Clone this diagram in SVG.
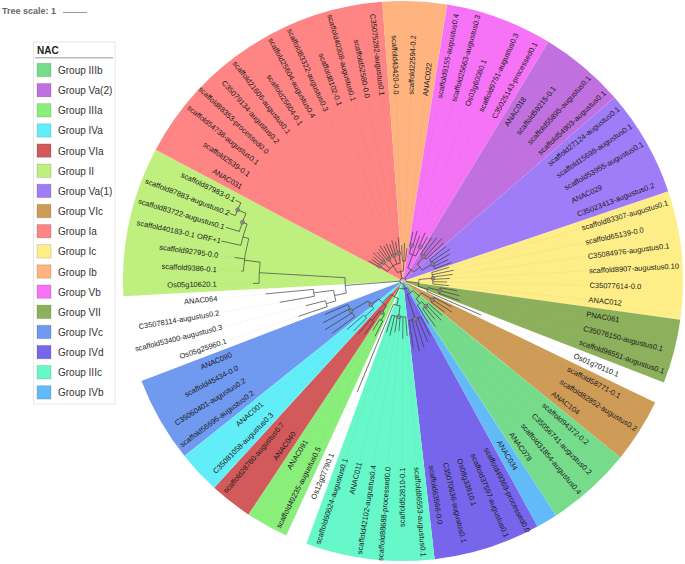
<svg xmlns="http://www.w3.org/2000/svg" width="685" height="564" viewBox="0 0 685 564">
<style>
.lb{font-family:"Liberation Sans",Arial,sans-serif;font-size:7.5px;fill:#1a1a1a}
.e{text-anchor:end}
.w{fill:none;stroke-width:280}
.lg{font-family:"Liberation Sans",Arial,sans-serif;font-size:10px;fill:#333}
.sw{stroke:#0002;stroke-width:1}
.bs{fill:#8a8a8a;stroke:#444;stroke-width:0.4;fill-opacity:0.85}
</style>
<rect width="685" height="564" fill="#fff"/>
<g id="sectors" transform="translate(403,281)">
<circle id="s-Ic" class="w" r="140" pathLength="360" stroke="#ffee88" stroke-dasharray="26.67 720" transform="rotate(-18.7)"/>
<circle id="s-VII" class="w" r="140" pathLength="360" stroke="#8cb05c" stroke-dasharray="13.33 720" transform="rotate(7.97)"/>
<circle id="s-VIc" class="w" r="140" pathLength="360" stroke="#cf9c58" stroke-dasharray="13.33 720" transform="rotate(25.74)"/>
<circle id="s-IIIb" class="w" r="140" pathLength="360" stroke="#76dc8c" stroke-dasharray="17.78 720" transform="rotate(39.08)"/>
<circle id="s-IVb" class="w" r="140" pathLength="360" stroke="#62bbf8" stroke-dasharray="4.44 720" transform="rotate(56.86)"/>
<circle id="s-IVd" class="w" r="140" pathLength="360" stroke="#7766ec" stroke-dasharray="22.22 720" transform="rotate(61.3)"/>
<circle id="s-IIIc" class="w" r="140" pathLength="360" stroke="#66f8c9" stroke-dasharray="26.67 720" transform="rotate(83.52)"/>
<circle id="s-IIIa" class="w" r="140" pathLength="360" stroke="#8aee7a" stroke-dasharray="8.89 720" transform="rotate(114.63)"/>
<circle id="s-VIa" class="w" r="140" pathLength="360" stroke="#d25a5a" stroke-dasharray="8.89 720" transform="rotate(123.52)"/>
<circle id="s-IVa" class="w" r="140" pathLength="360" stroke="#62eef8" stroke-dasharray="8.89 720" transform="rotate(132.41)"/>
<circle id="s-IVc" class="w" r="140" pathLength="360" stroke="#7099f0" stroke-dasharray="17.78 720" transform="rotate(141.3)"/>
<circle id="s-II" class="w" r="140" pathLength="360" stroke="#bfef7e" stroke-dasharray="31.11 720" transform="rotate(176.86)"/>
<circle id="s-Ia" class="w" r="140" pathLength="360" stroke="#ff8484" stroke-dasharray="57.78 720" transform="rotate(207.97)"/>
<circle id="s-Ib" class="w" r="140" pathLength="360" stroke="#ffb37f" stroke-dasharray="13.33 720" transform="rotate(265.74)"/>
<circle id="s-Vb" class="w" r="140" pathLength="360" stroke="#f672f6" stroke-dasharray="22.22 720" transform="rotate(279.08)"/>
<circle id="s-Va2" class="w" r="140" pathLength="360" stroke="#c070df" stroke-dasharray="17.78 720" transform="rotate(301.3)"/>
<circle id="s-Va1" class="w" r="140" pathLength="360" stroke="#a07df8" stroke-dasharray="22.22 720" transform="rotate(319.08)"/>
</g>
<g id="leaders" transform="translate(403,281)" stroke="#777" stroke-width="0.45" stroke-dasharray="1 1.5" opacity="0.3">
<line x1="48" x2="185" transform="rotate(-16.48)"/><line x1="52" x2="185" transform="rotate(-12.04)"/><line x1="50" x2="185" transform="rotate(-7.59)"/><line x1="47" x2="185" transform="rotate(-3.15)"/><line x1="44" x2="185" transform="rotate(1.3)"/><line x1="46" x2="185" transform="rotate(5.74)"/>
<line x1="55" x2="185" transform="rotate(10.19)"/><line x1="58" x2="185" transform="rotate(14.63)"/><line x1="60" x2="185" transform="rotate(19.08)"/><line x1="85" x2="185" transform="rotate(23.52)"/>
<line x1="55" x2="185" transform="rotate(27.96)"/><line x1="58" x2="185" transform="rotate(32.41)"/><line x1="52" x2="185" transform="rotate(36.85)"/>
<line x1="52" x2="185" transform="rotate(41.3)"/><line x1="55" x2="185" transform="rotate(45.74)"/><line x1="50" x2="185" transform="rotate(50.19)"/><line x1="56" x2="185" transform="rotate(54.63)"/><line x1="50" x2="185" transform="rotate(59.07)"/>
<line x1="62" x2="185" transform="rotate(63.52)"/><line x1="66" x2="185" transform="rotate(67.96)"/><line x1="70" x2="185" transform="rotate(72.41)"/><line x1="72" x2="185" transform="rotate(76.85)"/><line x1="68" x2="185" transform="rotate(81.3)"/>
<line x1="55" x2="185" transform="rotate(85.74)"/><line x1="58" x2="185" transform="rotate(90.19)"/><line x1="50" x2="185" transform="rotate(94.63)"/><line x1="52" x2="185" transform="rotate(99.07)"/><line x1="56" x2="185" transform="rotate(103.52)"/><line x1="54" x2="185" transform="rotate(107.96)"/>
<line x1="120" x2="185" transform="rotate(112.41)"/><line x1="62" x2="185" transform="rotate(116.85)"/><line x1="58" x2="185" transform="rotate(121.3)"/><line x1="66" x2="185" transform="rotate(125.74)"/><line x1="70" x2="185" transform="rotate(130.19)"/>
<line x1="70" x2="185" transform="rotate(134.63)"/><line x1="74" x2="185" transform="rotate(139.07)"/><line x1="88" x2="185" transform="rotate(143.52)"/><line x1="92" x2="185" transform="rotate(147.96)"/><line x1="90" x2="185" transform="rotate(152.41)"/><line x1="85" x2="185" transform="rotate(156.85)"/>
<line x1="110" x2="185" transform="rotate(161.3)"/><line x1="100" x2="185" transform="rotate(165.74)"/><line x1="125" x2="185" transform="rotate(170.19)"/><line x1="138" x2="185" transform="rotate(174.63)"/>
<line x1="150" x2="185" transform="rotate(179.07)"/><line x1="162" x2="185" transform="rotate(183.52)"/><line x1="170" x2="185" transform="rotate(187.96)"/>
<line x1="40" x2="185" transform="rotate(210.19)"/><line x1="38" x2="185" transform="rotate(214.63)"/><line x1="38" x2="185" transform="rotate(219.07)"/><line x1="41" x2="185" transform="rotate(223.52)"/><line x1="39" x2="185" transform="rotate(227.96)"/><line x1="40" x2="185" transform="rotate(232.41)"/><line x1="42" x2="185" transform="rotate(236.85)"/><line x1="40" x2="185" transform="rotate(241.3)"/><line x1="41" x2="185" transform="rotate(245.74)"/><line x1="39" x2="185" transform="rotate(250.19)"/><line x1="42" x2="185" transform="rotate(254.63)"/><line x1="40" x2="185" transform="rotate(259.07)"/><line x1="44" x2="185" transform="rotate(263.52)"/>
<line x1="36" x2="185" transform="rotate(267.96)"/><line x1="38" x2="185" transform="rotate(272.41)"/><line x1="33" x2="185" transform="rotate(276.85)"/>
<line x1="50" x2="185" transform="rotate(281.3)"/><line x1="52" x2="185" transform="rotate(285.74)"/><line x1="48" x2="185" transform="rotate(290.19)"/><line x1="53" x2="185" transform="rotate(294.63)"/><line x1="50" x2="185" transform="rotate(299.07)"/>
<line x1="52" x2="185" transform="rotate(303.52)"/><line x1="55" x2="185" transform="rotate(307.96)"/><line x1="58" x2="185" transform="rotate(312.41)"/><line x1="56" x2="185" transform="rotate(316.85)"/>
<line x1="55" x2="185" transform="rotate(321.3)"/><line x1="57" x2="185" transform="rotate(325.74)"/><line x1="54" x2="185" transform="rotate(330.19)"/><line x1="50" x2="185" transform="rotate(334.63)"/><line x1="52" x2="185" transform="rotate(339.07)"/>
</g>
<g id="connectors" transform="translate(403,281)" fill="none" stroke="#3c3c3c" stroke-width="0.65">
<circle r="3" pathLength="360" stroke-dasharray="278.5 720" transform="rotate(88.4)"/>
<line x1="3" x2="8" transform="rotate(88.4)"/><line x1="3" x2="58" transform="rotate(175.65)"/><line x1="3" x2="10" transform="rotate(254.6)"/><line x1="3" x2="14" transform="rotate(305.19)"/><line x1="3" x2="16" transform="rotate(6.86)"/>
<circle r="10" pathLength="360" stroke-dasharray="35.56 720" transform="rotate(236.85)"/>
<line x1="10" x2="18" transform="rotate(236.85)"/><line x1="10" x2="20" transform="rotate(272.41)"/>
<circle r="18" pathLength="360" stroke-dasharray="48.89 720" transform="rotate(212.41)"/>
<line x1="18" x2="28" transform="rotate(212.41)"/><line x1="18" x2="27" transform="rotate(223.52)"/><line x1="18" x2="26" transform="rotate(236.85)"/><line x1="18" x2="27" transform="rotate(250.19)"/><line x1="18" x2="28" transform="rotate(261.3)"/>
<circle r="28" pathLength="360" stroke-dasharray="4.44 720" transform="rotate(210.19)"/>
<line x1="28" x2="40" transform="rotate(210.19)"/><line x1="28" x2="38" transform="rotate(214.63)"/>
<circle r="27" pathLength="360" stroke-dasharray="8.89 720" transform="rotate(219.07)"/>
<line x1="27" x2="38" transform="rotate(219.07)"/><line x1="27" x2="41" transform="rotate(223.52)"/><line x1="27" x2="39" transform="rotate(227.96)"/>
<circle r="26" pathLength="360" stroke-dasharray="8.89 720" transform="rotate(232.41)"/>
<line x1="26" x2="40" transform="rotate(232.41)"/><line x1="26" x2="42" transform="rotate(236.85)"/><line x1="26" x2="40" transform="rotate(241.3)"/>
<circle r="27" pathLength="360" stroke-dasharray="8.89 720" transform="rotate(245.74)"/>
<line x1="27" x2="41" transform="rotate(245.74)"/><line x1="27" x2="39" transform="rotate(250.19)"/><line x1="27" x2="42" transform="rotate(254.63)"/>
<circle r="28" pathLength="360" stroke-dasharray="4.45 720" transform="rotate(259.07)"/>
<line x1="28" x2="40" transform="rotate(259.07)"/><line x1="28" x2="44" transform="rotate(263.52)"/>
<circle r="20" pathLength="360" stroke-dasharray="8.89 720" transform="rotate(267.96)"/>
<line x1="20" x2="36" transform="rotate(267.96)"/><line x1="20" x2="38" transform="rotate(272.41)"/><line x1="20" x2="33" transform="rotate(276.85)"/>
<circle r="14" pathLength="360" stroke-dasharray="30 720" transform="rotate(290.19)"/>
<line x1="14" x2="28" transform="rotate(290.19)"/><line x1="14" x2="22" transform="rotate(320.19)"/>
<circle r="28" pathLength="360" stroke-dasharray="13.33 720" transform="rotate(283.52)"/>
<line x1="28" x2="36" transform="rotate(283.52)"/><line x1="28" x2="48" transform="rotate(290.19)"/><line x1="28" x2="38" transform="rotate(296.85)"/>
<circle r="36" pathLength="360" stroke-dasharray="4.44 720" transform="rotate(281.3)"/>
<line x1="36" x2="50" transform="rotate(281.3)"/><line x1="36" x2="52" transform="rotate(285.74)"/>
<circle r="38" pathLength="360" stroke-dasharray="4.44 720" transform="rotate(294.63)"/>
<line x1="38" x2="53" transform="rotate(294.63)"/><line x1="38" x2="50" transform="rotate(299.07)"/>
<circle r="22" pathLength="360" stroke-dasharray="20 720" transform="rotate(310.19)"/>
<line x1="22" x2="32" transform="rotate(310.19)"/><line x1="22" x2="34" transform="rotate(330.19)"/>
<circle r="32" pathLength="360" stroke-dasharray="13.33 720" transform="rotate(303.52)"/>
<line x1="32" x2="52" transform="rotate(303.52)"/><line x1="32" x2="55" transform="rotate(307.96)"/><line x1="32" x2="58" transform="rotate(312.41)"/><line x1="32" x2="56" transform="rotate(316.85)"/>
<circle r="34" pathLength="360" stroke-dasharray="17.77 720" transform="rotate(321.3)"/>
<line x1="34" x2="55" transform="rotate(321.3)"/><line x1="34" x2="57" transform="rotate(325.74)"/><line x1="34" x2="54" transform="rotate(330.19)"/><line x1="34" x2="50" transform="rotate(334.63)"/><line x1="34" x2="52" transform="rotate(339.07)"/>
<circle r="16" pathLength="360" stroke-dasharray="24.45 720" transform="rotate(-5.37)"/>
<line x1="16" x2="30" transform="rotate(-5.37)"/><line x1="16" x2="26" transform="rotate(19.08)"/>
<circle r="30" pathLength="360" stroke-dasharray="22.22 720" transform="rotate(-16.48)"/>
<line x1="30" x2="48" transform="rotate(-16.48)"/><line x1="30" x2="52" transform="rotate(-12.04)"/><line x1="30" x2="50" transform="rotate(-7.59)"/><line x1="30" x2="47" transform="rotate(-3.15)"/><line x1="30" x2="44" transform="rotate(1.3)"/><line x1="30" x2="46" transform="rotate(5.74)"/>
<circle r="26" pathLength="360" stroke-dasharray="8.89 720" transform="rotate(14.63)"/>
<line x1="26" x2="38" transform="rotate(14.63)"/><line x1="26" x2="85" transform="rotate(23.52)"/>
<circle r="38" pathLength="360" stroke-dasharray="8.89 720" transform="rotate(10.19)"/>
<line x1="38" x2="55" transform="rotate(10.19)"/><line x1="38" x2="58" transform="rotate(14.63)"/><line x1="38" x2="60" transform="rotate(19.08)"/>
<circle r="8" pathLength="360" stroke-dasharray="61.4 720" transform="rotate(57.7)"/>
<line x1="8" x2="14" transform="rotate(57.7)"/><line x1="8" x2="18" transform="rotate(119.1)"/>
<circle r="14" pathLength="360" stroke-dasharray="29.45 720" transform="rotate(42.96)"/>
<line x1="14" x2="22" transform="rotate(42.96)"/><line x1="14" x2="40" transform="rotate(72.41)"/>
<circle r="22" pathLength="360" stroke-dasharray="21.09 720" transform="rotate(32.41)"/>
<line x1="22" x2="35" transform="rotate(32.41)"/><line x1="22" x2="28" transform="rotate(53.5)"/>
<circle r="35" pathLength="360" stroke-dasharray="8.89 720" transform="rotate(27.96)"/>
<line x1="35" x2="55" transform="rotate(27.96)"/><line x1="35" x2="58" transform="rotate(32.41)"/><line x1="35" x2="52" transform="rotate(36.85)"/>
<circle r="28" pathLength="360" stroke-dasharray="11.11 720" transform="rotate(47.96)"/>
<line x1="28" x2="34" transform="rotate(47.96)"/><line x1="28" x2="50" transform="rotate(59.07)"/>
<circle r="34" pathLength="360" stroke-dasharray="13.33 720" transform="rotate(41.3)"/>
<line x1="34" x2="52" transform="rotate(41.3)"/><line x1="34" x2="55" transform="rotate(45.74)"/><line x1="34" x2="50" transform="rotate(50.19)"/><line x1="34" x2="56" transform="rotate(54.63)"/>
<circle r="40" pathLength="360" stroke-dasharray="17.78 720" transform="rotate(63.52)"/>
<line x1="40" x2="62" transform="rotate(63.52)"/><line x1="40" x2="66" transform="rotate(67.96)"/><line x1="40" x2="70" transform="rotate(72.41)"/><line x1="40" x2="72" transform="rotate(76.85)"/><line x1="40" x2="68" transform="rotate(81.3)"/>
<circle r="18" pathLength="360" stroke-dasharray="28.9 720" transform="rotate(104.6)"/>
<line x1="18" x2="25" transform="rotate(104.6)"/><line x1="18" x2="30" transform="rotate(133.5)"/>
<circle r="25" pathLength="360" stroke-dasharray="15.56 720" transform="rotate(96.85)"/>
<line x1="25" x2="36" transform="rotate(96.85)"/><line x1="25" x2="120" transform="rotate(112.41)"/>
<circle r="36" pathLength="360" stroke-dasharray="22.22 720" transform="rotate(85.74)"/>
<line x1="36" x2="55" transform="rotate(85.74)"/><line x1="36" x2="58" transform="rotate(90.19)"/><line x1="36" x2="50" transform="rotate(94.63)"/><line x1="36" x2="52" transform="rotate(99.07)"/><line x1="36" x2="56" transform="rotate(103.52)"/><line x1="36" x2="54" transform="rotate(107.96)"/>
<circle r="30" pathLength="360" stroke-dasharray="20 720" transform="rotate(123.5)"/>
<line x1="30" x2="38" transform="rotate(123.5)"/><line x1="30" x2="40" transform="rotate(143.5)"/>
<circle r="38" pathLength="360" stroke-dasharray="8.89 720" transform="rotate(119.07)"/>
<line x1="38" x2="45" transform="rotate(119.07)"/><line x1="38" x2="50" transform="rotate(127.96)"/>
<circle r="45" pathLength="360" stroke-dasharray="4.45 720" transform="rotate(116.85)"/>
<line x1="45" x2="62" transform="rotate(116.85)"/><line x1="45" x2="58" transform="rotate(121.3)"/>
<circle r="50" pathLength="360" stroke-dasharray="4.45 720" transform="rotate(125.74)"/>
<line x1="50" x2="66" transform="rotate(125.74)"/><line x1="50" x2="70" transform="rotate(130.19)"/>
<circle r="40" pathLength="360" stroke-dasharray="13.34 720" transform="rotate(136.85)"/>
<line x1="40" x2="52" transform="rotate(136.85)"/><line x1="40" x2="60" transform="rotate(150.19)"/>
<circle r="52" pathLength="360" stroke-dasharray="4.44 720" transform="rotate(134.63)"/>
<line x1="52" x2="70" transform="rotate(134.63)"/><line x1="52" x2="74" transform="rotate(139.07)"/>
<circle r="60" pathLength="360" stroke-dasharray="13.33 720" transform="rotate(143.52)"/>
<line x1="60" x2="88" transform="rotate(143.52)"/><line x1="60" x2="92" transform="rotate(147.96)"/><line x1="60" x2="90" transform="rotate(152.41)"/><line x1="60" x2="85" transform="rotate(156.85)"/>
<circle r="58" pathLength="360" stroke-dasharray="15.3 720" transform="rotate(168)"/>
<line x1="58" x2="70" transform="rotate(168)"/><line x1="58" x2="144" transform="rotate(183.3)"/>
<circle r="70" pathLength="360" stroke-dasharray="8.89 720" transform="rotate(163.52)"/>
<line x1="70" x2="80" transform="rotate(163.52)"/><line x1="70" x2="90" transform="rotate(172.41)"/>
<circle r="80" pathLength="360" stroke-dasharray="4.44 720" transform="rotate(161.3)"/>
<line x1="80" x2="110" transform="rotate(161.3)"/><line x1="80" x2="100" transform="rotate(165.74)"/>
<circle r="90" pathLength="360" stroke-dasharray="4.44 720" transform="rotate(170.19)"/>
<line x1="90" x2="125" transform="rotate(170.19)"/><line x1="90" x2="138" transform="rotate(174.63)"/>
<circle r="144" pathLength="360" stroke-dasharray="8.43 720" transform="rotate(179.07)"/>
<line x1="144" x2="150" transform="rotate(179.07)"/><line x1="144" x2="160" transform="rotate(187.5)"/>
<circle r="160" pathLength="360" stroke-dasharray="11.88 720" transform="rotate(183.52)"/>
<line x1="160" x2="162" transform="rotate(183.52)"/><line x1="160" x2="170" transform="rotate(187.96)"/><line x1="160" x2="166" transform="rotate(195.4)"/>
<circle r="166" pathLength="360" stroke-dasharray="7.69 720" transform="rotate(192.41)"/>
<line x1="166" x2="186" transform="rotate(192.41)"/><line x1="166" x2="171" transform="rotate(200.1)"/>
<circle r="171" pathLength="360" stroke-dasharray="6.45 720" transform="rotate(196.85)"/>
<line x1="171" x2="185" transform="rotate(196.85)"/><line x1="171" x2="180" transform="rotate(203.3)"/>
<circle r="180" pathLength="360" stroke-dasharray="4.44 720" transform="rotate(201.3)"/>
<line x1="180" x2="186" transform="rotate(201.3)"/><line x1="180" x2="186" transform="rotate(205.74)"/>
</g>
<g id="bootstrap" transform="translate(403,281)">
<circle class="bs" cx="28" r="2" transform="rotate(212.41)"/><circle class="bs" cx="27" r="2" transform="rotate(223.52)"/><circle class="bs" cx="26" r="2" transform="rotate(236.85)"/><circle class="bs" cx="27" r="2" transform="rotate(250.19)"/><circle class="bs" cx="28" r="2" transform="rotate(261.3)"/>
<circle class="bs" cx="36" r="2" transform="rotate(283.52)"/><circle class="bs" cx="38" r="2" transform="rotate(296.85)"/><circle class="bs" cx="32" r="2" transform="rotate(310.19)"/><circle class="bs" cx="34" r="2" transform="rotate(330.19)"/>
<circle class="bs" cx="30" r="2" transform="rotate(-5.37)"/><circle class="bs" cx="38" r="2" transform="rotate(14.63)"/><circle class="bs" cx="35" r="2" transform="rotate(32.41)"/><circle class="bs" cx="34" r="2" transform="rotate(47.96)"/><circle class="bs" cx="40" r="2" transform="rotate(72.41)"/>
<circle class="bs" cx="36" r="2" transform="rotate(96.85)"/><circle class="bs" cx="38" r="2" transform="rotate(123.5)"/><circle class="bs" cx="40" r="2" transform="rotate(143.5)"/><circle class="bs" cx="60" r="2" transform="rotate(150.19)"/>
<circle class="bs" cx="171" r="2" transform="rotate(200.1)"/><circle class="bs" cx="180" r="2" transform="rotate(203.3)"/>
</g>
<g id="labels" class="lb" transform="translate(403,281)">
<text x="186.5" dy="2.6" transform="rotate(-16.48)">scaffold83307-augustus0.1</text>
<text x="186.5" dy="2.6" transform="rotate(-12.04)">scaffold65139-0.0</text>
<text x="186.5" dy="2.6" transform="rotate(-7.59)">C35084976-augustus0.1</text>
<text x="186.5" dy="2.6" transform="rotate(-3.15)">scaffold8907-augustus0.10</text>
<text x="186.5" dy="2.6" transform="rotate(1.3)">C35077614-0.0</text>
<text x="186.5" dy="2.6" transform="rotate(5.74)">ANAC012</text>
<text x="186.5" dy="2.6" transform="rotate(10.19)">PNAC061</text>
<text x="186.5" dy="2.6" transform="rotate(14.63)">C35076150-augustus0.1</text>
<text x="186.5" dy="2.6" transform="rotate(19.08)">scaffold96551-augustus0.1</text>
<text x="186.5" dy="2.6" transform="rotate(23.52)">Os01g70110.1</text>
<text x="186.5" dy="2.6" transform="rotate(27.96)">scaffold58771-0.1</text>
<text x="186.5" dy="2.6" transform="rotate(32.41)">scaffold82852-augustus0.2</text>
<text x="186.5" dy="2.6" transform="rotate(36.85)">ANAC104</text>
<text x="186.5" dy="2.6" transform="rotate(41.3)">scaffold94372-0.2</text>
<text x="186.5" dy="2.6" transform="rotate(45.74)">C35056741-augustus0.2</text>
<text x="186.5" dy="2.6" transform="rotate(50.19)">scaffold31854-augustus0.4</text>
<text x="186.5" dy="2.6" transform="rotate(54.63)">ANAC078</text>
<text x="186.5" dy="2.6" transform="rotate(59.07)">ANAC034</text>
<text x="186.5" dy="2.6" transform="rotate(63.52)">scaffold49369-processed0.0</text>
<text x="186.5" dy="2.6" transform="rotate(67.96)">scaffold37597-augustus0.1</text>
<text x="186.5" dy="2.6" transform="rotate(72.41)">Os08g33910.1</text>
<text x="186.5" dy="2.6" transform="rotate(76.85)">C35070636-augustus0.1</text>
<text x="186.5" dy="2.6" transform="rotate(81.3)">scaffold63566-0.0</text>
<text x="186.5" dy="2.6" transform="rotate(85.74)">scaffold86553-augustus0.1</text>
<text class="e" x="-186.5" dy="2.6" transform="rotate(-89.81)">scaffold52810-0.1</text>
<text class="e" x="-186.5" dy="2.6" transform="rotate(-85.37)">scaffold88688-processed0.0</text>
<text class="e" x="-186.5" dy="2.6" transform="rotate(-80.93)">scaffold42102-augustus0.4</text>
<text class="e" x="-186.5" dy="2.6" transform="rotate(-76.48)">ANAC011</text>
<text class="e" x="-186.5" dy="2.6" transform="rotate(-72.04)">scaffold60624-augustus0.1</text>
<text class="e" x="-186.5" dy="2.6" transform="rotate(-67.59)">Os12g07790.1</text>
<text class="e" x="-186.5" dy="2.6" transform="rotate(-63.15)">scaffold49235-augustus0.5</text>
<text class="e" x="-186.5" dy="2.6" transform="rotate(-58.7)">ANAC091</text>
<text class="e" x="-186.5" dy="2.6" transform="rotate(-54.26)">ANAC040</text>
<text class="e" x="-186.5" dy="2.6" transform="rotate(-49.81)">scaffold28760-augustus0.7</text>
<text class="e" x="-186.5" dy="2.6" transform="rotate(-45.37)">C35081058-augustus0.3</text>
<text class="e" x="-186.5" dy="2.6" transform="rotate(-40.93)">ANAC001</text>
<text class="e" x="-186.5" dy="2.6" transform="rotate(-36.48)">scaffold56696-augustus0.2</text>
<text class="e" x="-186.5" dy="2.6" transform="rotate(-32.04)">C35060401-augustus0.2</text>
<text class="e" x="-186.5" dy="2.6" transform="rotate(-27.59)">scaffold45434-0.0</text>
<text class="e" x="-186.5" dy="2.6" transform="rotate(-23.15)">ANAC090</text>
<text class="e" x="-186.5" dy="2.6" transform="rotate(-18.7)">Os05g25960.1</text>
<text class="e" x="-186.5" dy="2.6" transform="rotate(-14.26)">scaffold53400-augustus0.3</text>
<text class="e" x="-186.5" dy="2.6" transform="rotate(-9.81)">C35078114-augustus0.2</text>
<text class="e" x="-186.5" dy="2.6" transform="rotate(-5.37)">ANAC064</text>
<text class="e" x="-186.5" dy="2.6" transform="rotate(-0.93)">Os05g10620.1</text>
<text class="e" x="-186.5" dy="2.6" transform="rotate(3.52)">scaffold9386-0.1</text>
<text class="e" x="-186.5" dy="2.6" transform="rotate(7.96)">scaffold92795-0.0</text>
<text class="e" x="-186.5" dy="2.6" transform="rotate(12.41)">scaffold40183-0.1 ORF+1</text>
<text class="e" x="-186.5" dy="2.6" transform="rotate(16.85)">scaffold83722-augustus0.1</text>
<text class="e" x="-186.5" dy="2.6" transform="rotate(21.3)">scaffold87883-augustus0.2</text>
<text class="e" x="-186.5" dy="2.6" transform="rotate(25.74)">scaffold87983-0.1</text>
<text class="e" x="-186.5" dy="2.6" transform="rotate(30.19)">ANAC031</text>
<text class="e" x="-186.5" dy="2.6" transform="rotate(34.63)">scaffold2539-0.1</text>
<text class="e" x="-186.5" dy="2.6" transform="rotate(39.07)">scaffold54738-augustus0.1</text>
<text class="e" x="-186.5" dy="2.6" transform="rotate(43.52)">scaffold88353-processed0.0</text>
<text class="e" x="-186.5" dy="2.6" transform="rotate(47.96)">C35079134-augustus0.2</text>
<text class="e" x="-186.5" dy="2.6" transform="rotate(52.41)">scaffold21606-augustus0.1</text>
<text class="e" x="-186.5" dy="2.6" transform="rotate(56.85)">scaffold25604-0.1</text>
<text class="e" x="-186.5" dy="2.6" transform="rotate(61.3)">scaffold25604-augustus0.4</text>
<text class="e" x="-186.5" dy="2.6" transform="rotate(65.74)">scaffold83322-augustus0.3</text>
<text class="e" x="-186.5" dy="2.6" transform="rotate(70.19)">scaffold8102-0.1</text>
<text class="e" x="-186.5" dy="2.6" transform="rotate(74.63)">scaffold40308-augustus0.1</text>
<text class="e" x="-186.5" dy="2.6" transform="rotate(79.07)">scaffold52580-0.0</text>
<text class="e" x="-186.5" dy="2.6" transform="rotate(83.52)">C35075282-augustus0.1</text>
<text class="e" x="-186.5" dy="2.6" transform="rotate(87.96)">scaffold43420-0.0</text>
<text x="186.5" dy="2.6" transform="rotate(272.41)">scaffold22594-0.2</text>
<text x="186.5" dy="2.6" transform="rotate(276.85)">ANAC022</text>
<text x="186.5" dy="2.6" transform="rotate(281.3)">scaffold9155-augustus0.4</text>
<text x="186.5" dy="2.6" transform="rotate(285.74)">scaffold25663-augustus0.3</text>
<text x="186.5" dy="2.6" transform="rotate(290.19)">Os03g60080.1</text>
<text x="186.5" dy="2.6" transform="rotate(294.63)">scaffold9751-augustus0.3</text>
<text x="186.5" dy="2.6" transform="rotate(299.07)">C35025143-processed0.1</text>
<text x="186.5" dy="2.6" transform="rotate(303.52)">ANAC018</text>
<text x="186.5" dy="2.6" transform="rotate(307.96)">scaffold59215-0.1</text>
<text x="186.5" dy="2.6" transform="rotate(312.41)">scaffold55895-augustus0.1</text>
<text x="186.5" dy="2.6" transform="rotate(316.85)">scaffold54903-augustus0.1</text>
<text x="186.5" dy="2.6" transform="rotate(321.3)">scaffold27124-augustus0.1</text>
<text x="186.5" dy="2.6" transform="rotate(325.74)">scaffold15698-augustus0.1</text>
<text x="186.5" dy="2.6" transform="rotate(330.19)">scaffold53955-augustus0.1</text>
<text x="186.5" dy="2.6" transform="rotate(334.63)">ANAC029</text>
<text x="186.5" dy="2.6" transform="rotate(339.07)">C35023413-augustus0.2</text>
</g>
<g id="tree-scale">
<text x="2" y="14" font-family="Liberation Sans, Arial, sans-serif" font-size="9" font-weight="bold" fill="#666">Tree scale: 1</text>
<line x1="63" y1="12.5" x2="87" y2="12.5" stroke="#999" stroke-width="1"/>
</g>
<g id="legend">
<rect x="33.5" y="42" width="81.5" height="362" fill="#fff" stroke="#e8e8e8" stroke-width="1"/>
<text x="37" y="53.5" font-family="Liberation Sans, Arial, sans-serif" font-size="10" font-weight="bold" fill="#222">NAC</text>
<line x1="35" y1="57.8" x2="113" y2="57.8" stroke="#999" stroke-width="1"/>
<g id="lg-IIIb"><rect class="sw" x="37" y="63.3" width="14" height="13.4" fill="#76dc8c"/><text class="lg" x="58" y="74">Group IIIb</text></g>
<g id="lg-Va2"><rect class="sw" x="37" y="83.45" width="14" height="13.4" fill="#c070df"/><text class="lg" x="58" y="94.15">Group Va(2)</text></g>
<g id="lg-IIIa"><rect class="sw" x="37" y="103.6" width="14" height="13.4" fill="#8aee7a"/><text class="lg" x="58" y="114.3">Group IIIa</text></g>
<g id="lg-IVa"><rect class="sw" x="37" y="123.75" width="14" height="13.4" fill="#62eef8"/><text class="lg" x="58" y="134.45">Group IVa</text></g>
<g id="lg-VIa"><rect class="sw" x="37" y="143.9" width="14" height="13.4" fill="#d25a5a"/><text class="lg" x="58" y="154.6">Group VIa</text></g>
<g id="lg-II"><rect class="sw" x="37" y="164.05" width="14" height="13.4" fill="#bfef7e"/><text class="lg" x="58" y="174.75">Group II</text></g>
<g id="lg-Va1"><rect class="sw" x="37" y="184.2" width="14" height="13.4" fill="#a07df8"/><text class="lg" x="58" y="194.9">Group Va(1)</text></g>
<g id="lg-VIc"><rect class="sw" x="37" y="204.35" width="14" height="13.4" fill="#cf9c58"/><text class="lg" x="58" y="215.05">Group VIc</text></g>
<g id="lg-Ia"><rect class="sw" x="37" y="224.5" width="14" height="13.4" fill="#ff8484"/><text class="lg" x="58" y="235.2">Group Ia</text></g>
<g id="lg-Ic"><rect class="sw" x="37" y="244.65" width="14" height="13.4" fill="#ffee88"/><text class="lg" x="58" y="255.35">Group Ic</text></g>
<g id="lg-Ib"><rect class="sw" x="37" y="264.8" width="14" height="13.4" fill="#ffb37f"/><text class="lg" x="58" y="275.5">Group Ib</text></g>
<g id="lg-Vb"><rect class="sw" x="37" y="284.95" width="14" height="13.4" fill="#f672f6"/><text class="lg" x="58" y="295.65">Group Vb</text></g>
<g id="lg-VII"><rect class="sw" x="37" y="305.1" width="14" height="13.4" fill="#8cb05c"/><text class="lg" x="58" y="315.8">Group VII</text></g>
<g id="lg-IVc"><rect class="sw" x="37" y="325.25" width="14" height="13.4" fill="#7099f0"/><text class="lg" x="58" y="335.95">Group IVc</text></g>
<g id="lg-IVd"><rect class="sw" x="37" y="345.4" width="14" height="13.4" fill="#7766ec"/><text class="lg" x="58" y="356.1">Group IVd</text></g>
<g id="lg-IIIc"><rect class="sw" x="37" y="365.55" width="14" height="13.4" fill="#66f8c9"/><text class="lg" x="58" y="376.25">Group IIIc</text></g>
<g id="lg-IVb"><rect class="sw" x="37" y="385.7" width="14" height="13.4" fill="#62bbf8"/><text class="lg" x="58" y="396.4">Group IVb</text></g>
</g>
</svg>
